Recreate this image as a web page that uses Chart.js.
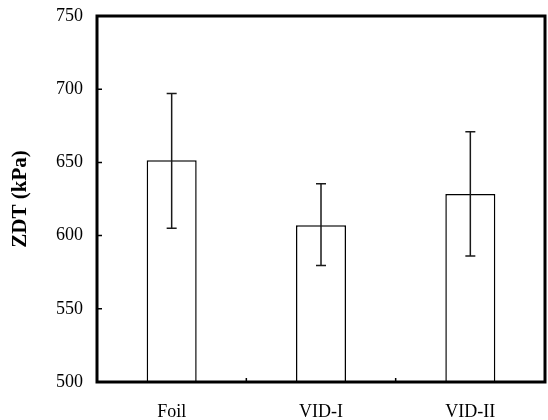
<!DOCTYPE html>
<html>
<head>
<meta charset="utf-8">
<script src="https://cdn.jsdelivr.net/npm/chart.js@4/dist/chart.umd.min.js"></script>
<style>
  html, body { margin: 0; padding: 0; background: #fff; }
  canvas { display: block; }
</style>
</head>
<body>
<canvas id="chart" width="548" height="420"></canvas>
<script>
const categories = ["Foil", "VID-I", "VID-II"];
const zdtMeans = [651.5, 607, 628.5];
const errLow = [605, 579.5, 586];
const errHigh = [697, 635.5, 671];
const yTicks = [500, 550, 600, 650, 700, 750];

const serif = "'Liberation Serif', 'Times New Roman', serif";

// error bars + frame + inward ticks, all from the scales
const extras = {
  id: "extras",
  afterDatasetsDraw(chart) {
    const { ctx, chartArea: a, scales: { x, y } } = chart;
    ctx.save();
    ctx.strokeStyle = "#1a1a1a";
    ctx.lineWidth = 1.5;
    categories.forEach((c, i) => {
      const cx = x.getPixelForValue(i);
      const top = y.getPixelForValue(errHigh[i]);
      const bot = y.getPixelForValue(errLow[i]);
      ctx.beginPath();
      ctx.moveTo(cx, top); ctx.lineTo(cx, bot);
      ctx.moveTo(cx - 5, top); ctx.lineTo(cx + 5, top);
      ctx.moveTo(cx - 5, bot); ctx.lineTo(cx + 5, bot);
      ctx.stroke();
    });

    ctx.strokeStyle = "#000";
    ctx.lineWidth = 1.5;
    ctx.beginPath();
    yTicks.forEach(v => {
      const py = y.getPixelForValue(v);
      ctx.moveTo(a.left, py); ctx.lineTo(a.left + 5, py);
    });
    for (let i = 1; i < categories.length; i++) {
      const px = (x.getPixelForValue(i - 1) + x.getPixelForValue(i)) / 2;
      ctx.moveTo(px, a.bottom); ctx.lineTo(px, a.bottom - 4);
    }
    ctx.stroke();

    ctx.lineWidth = 3;
    ctx.strokeRect(a.left, a.top, a.right - a.left, a.bottom - a.top);
    ctx.restore();
  }
};

new Chart(document.getElementById("chart"), {
  type: "bar",
  data: {
    labels: categories,
    datasets: [{
      data: zdtMeans,
      backgroundColor: "#fff",
      borderColor: "#000",
      borderWidth: 1.5,
      borderSkipped: "start",
      barPercentage: 0.335,
      categoryPercentage: 1,
    }],
  },
  options: {
    responsive: false,
    animation: false,
    layout: { padding: { top: 16, right: 3, left: 0, bottom: 0 } },
    plugins: { legend: { display: false }, tooltip: { enabled: false } },
    scales: {
      x: {
        grid: { display: false, drawTicks: false },
        border: { display: false },
        ticks: { color: "#000", font: { family: serif, size: 18 }, padding: 19 },
        afterFit: s => { s.height = 38; s.paddingLeft = 0; s.paddingRight = 0; },
      },
      y: {
        min: 500,
        max: 750,
        afterBuildTicks: s => { s.ticks = yTicks.map(v => ({ value: v })); },
        grid: { display: false, drawTicks: false },
        border: { display: false },
        ticks: { color: "#000", font: { family: serif, size: 18 }, padding: 14 },
        title: {
          display: true,
          text: "ZDT (kPa)",
          color: "#000",
          font: { family: serif, size: 21, weight: "bold" },
          padding: { top: 8, bottom: 0 },
        },
        afterFit: s => { s.width = 97; s.paddingTop = 0; s.paddingBottom = 0; },
      },
    },
  },
  plugins: [extras],
});
</script>
</body>
</html>
